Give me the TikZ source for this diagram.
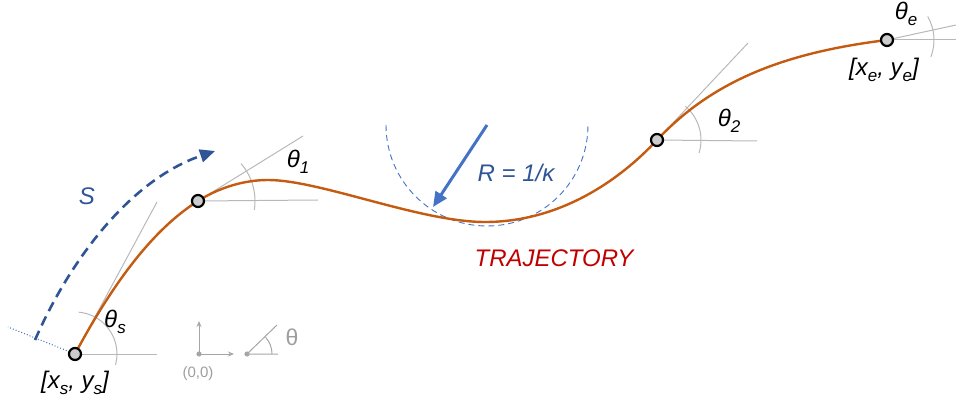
\documentclass[tikz,border=0pt]{standalone}
\usepackage{fontspec}
\setmainfont{Liberation Sans}
\usetikzlibrary{arrows.meta}
\definecolor{traj}{HTML}{C55A11}
\definecolor{dblue}{HTML}{2F5597}
\definecolor{lblue}{HTML}{4472C4}
\definecolor{tred}{HTML}{C00000}
\newcommand{\sbx}[1]{\raisebox{-0.25em}{\fontsize{17}{18}\selectfont #1}}
\begin{document}
\begin{tikzpicture}[x=1pt,y=-1pt,
  pt/.style={circle,draw=black,fill=black!20,line width=2.2pt,minimum size=12pt,inner sep=0pt},
  tan/.style={draw=black!28,line width=1pt},
  lbl/.style={font=\fontsize{24}{27}\selectfont\itshape,inner sep=0pt},
  icon/.style={draw=black!35,line width=1pt},
]
\useasboundingbox (0,0) rectangle (956,406);
% coordinates
\coordinate (ts) at (157,202); \coordinate (hs) at (157,354);
\coordinate (t1) at (303,136); \coordinate (h1) at (318,200);
\coordinate (t2) at (748,43);  \coordinate (h2) at (757,141);
\coordinate (te) at (956,25);  \coordinate (he) at (956,40);
\coordinate (back) at (8,327);
\coordinate (cc) at (487,125);
\coordinate (rt) at (433,207);
\coordinate (sa) at (35,340); \coordinate (sb) at (215,151);
% tangent lines
\draw[tan] (75,354) -- (ts); \draw[tan] (75,354) -- (hs);
\draw[tan] (198,201) -- (t1); \draw[tan] (198,201) -- (h1);
\draw[tan] (657,140) -- (t2); \draw[tan] (657,140) -- (h2);
\draw[tan] (887,40) -- (te); \draw[tan] (887,40) -- (he);
% angle arcs
\draw[tan] ([shift={(15:42)}]75,354) arc[start angle=15,end angle=-85,radius=42];
\draw[tan] ([shift={(9:57)}]198,201) arc[start angle=9,end angle=-41,radius=57];
\draw[tan] ([shift={(17:44)}]657,140) arc[start angle=17,end angle=-50,radius=44];
\draw[tan] ([shift={(21:47)}]887,40) arc[start angle=21,end angle=-30,radius=47];
% dotted backward line
\draw[lblue,dotted,line width=1pt] (75,354) -- (back);
% curvature circle
\draw[lblue,dashed,line width=0.9pt,dash pattern=on 6pt off 4pt] ([shift={(180:101)}]cc) arc[start angle=180,end angle=0,radius=101];
% trajectory
\draw[traj,line width=2.4pt] (75,354) .. controls (120,270) and (160,225) .. (198,201)
  .. controls (220,187) and (245,180) .. (268,180)
  .. controls (320,180) and (420,222) .. (485,222)
  .. controls (560,222) and (620,180) .. (657,140)
  .. controls (715,78) and (790,52) .. (887,40);
% radius arrow
\draw[lblue,line width=3pt,-{Triangle[length=15pt,width=13pt]}] (cc) -- (rt);
% S arrow
\draw[dblue,line width=2.6pt,dash pattern=on 10pt off 6pt,-{Triangle[length=15pt,width=13pt]}] (sa) .. controls (70,260) and (130,180) .. (sb);
% points
\node[pt] (ps) at (75,354) {};
\node[pt] (p1) at (198,201) {};
\node[pt] (p2) at (657,140) {};
\node[pt] (pe) at (887,40) {};
% icon
\coordinate (o) at (199,354);
\coordinate (oy) at (199,321);
\coordinate (ox) at (234,354);
\draw[icon,-{Stealth[length=6pt,width=5pt]}] (o) -- (oy);
\draw[icon,-{Stealth[length=6pt,width=5pt]}] (o) -- (ox);
\fill[black!35] (o) circle (2.6);
\coordinate (a0) at (247,354);
\coordinate (a1) at (277,325);
\coordinate (a2) at (278,354);
\draw[icon] (a1) -- (a0) -- (a2);
\draw[icon] ([shift={(0:25)}]a0) arc[start angle=0,end angle=-42,radius=25];
\fill[black!35] (a0) circle (2.6);
\node[text=black!38,font=\fontsize{23}{25}\selectfont,inner sep=0pt] (th) at (292,337) {θ};
\node[text=black!38,font=\fontsize{15}{17}\selectfont,inner sep=0pt] (oo) at (198,374) {(0,0)};
% labels
\node[lbl] (ls) at (75,383) {[x\sbx{s}, y\sbx{s}]};
\node[lbl] (le) at (884,70) {[x\sbx{e}, y\sbx{e}]};
\node[lbl] (ths) at (115,322) {θ\sbx{s}};
\node[lbl] (th1) at (298,162) {θ\sbx{1}};
\node[lbl] (th2) at (729,121) {θ\sbx{2}};
\node[lbl] (the) at (906,14) {θ\sbx{e}};
\node[lbl,text=dblue] (sl) at (87,196) {S};
\node[lbl,text=dblue] (rl) at (516,173) {R = 1/κ};
\node[lbl,text=tred] (tl) at (554,258) {TRAJECTORY};
\end{tikzpicture}
\end{document}
